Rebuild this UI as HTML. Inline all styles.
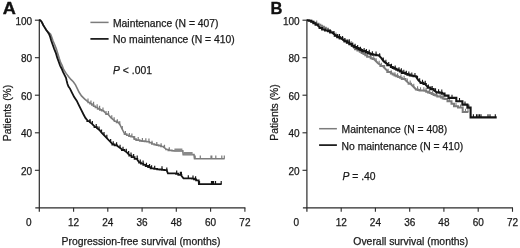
<!DOCTYPE html>
<html><head><meta charset="utf-8"><title>Survival curves</title>
<style>html,body{margin:0;padding:0;background:#fff;width:520px;height:248px;overflow:hidden}svg{display:block;will-change:transform}</style>
</head><body>
<svg width="520" height="248" viewBox="0 0 520 248">
<style>
.t{font-family:"Liberation Sans",sans-serif;font-size:10px;fill:#1a1a1a;stroke:#1a1a1a;stroke-width:0.25px}
.l{font-family:"Liberation Sans",sans-serif;font-size:10.35px;fill:#1a1a1a;stroke:#1a1a1a;stroke-width:0.25px}
.x{font-family:"Liberation Sans",sans-serif;font-size:10.4px;fill:#1a1a1a;stroke:#1a1a1a;stroke-width:0.25px}
.h{font-family:"Liberation Sans",sans-serif;font-size:16.5px;font-weight:bold;fill:#111;stroke:#111;stroke-width:0.35px}
</style>
<rect width="520" height="248" fill="#fff"/>
<text transform="translate(2.8,13.5) scale(1.1,1)" class="h">A</text>
<text x="270.6" y="13.5" class="h">B</text>
<path d="M39.3,19.599999999999998 V211.8" stroke="#2a2a2a" stroke-width="1.2" fill="none"/>
<path d="M35.3,207.8 H245.36" stroke="#2a2a2a" stroke-width="1.2" fill="none"/>
<path d="M34.9,170.3 H39.3" stroke="#2a2a2a" stroke-width="1.1"/>
<path d="M34.9,132.8 H39.3" stroke="#2a2a2a" stroke-width="1.1"/>
<path d="M34.9,95.2 H39.3" stroke="#2a2a2a" stroke-width="1.1"/>
<path d="M34.9,57.7 H39.3" stroke="#2a2a2a" stroke-width="1.1"/>
<path d="M34.9,20.2 H39.3" stroke="#2a2a2a" stroke-width="1.1"/>
<path d="M73.6,207.8 V211.8" stroke="#2a2a2a" stroke-width="1.1"/>
<path d="M107.8,207.8 V211.8" stroke="#2a2a2a" stroke-width="1.1"/>
<path d="M142.1,207.8 V211.8" stroke="#2a2a2a" stroke-width="1.1"/>
<path d="M176.3,207.8 V211.8" stroke="#2a2a2a" stroke-width="1.1"/>
<path d="M210.6,207.8 V211.8" stroke="#2a2a2a" stroke-width="1.1"/>
<path d="M244.9,207.8 V211.8" stroke="#2a2a2a" stroke-width="1.1"/>
<text x="32.1" y="174.6" text-anchor="end" class="t">20</text>
<text x="32.1" y="137.1" text-anchor="end" class="t">40</text>
<text x="32.1" y="99.5" text-anchor="end" class="t">60</text>
<text x="32.1" y="62.0" text-anchor="end" class="t">80</text>
<text x="32.1" y="24.5" text-anchor="end" class="t">100</text>
<text x="28.8" y="225.7" text-anchor="middle" class="t">0</text>
<text x="73.6" y="225.7" text-anchor="middle" class="t">12</text>
<text x="107.8" y="225.7" text-anchor="middle" class="t">24</text>
<text x="142.1" y="225.7" text-anchor="middle" class="t">36</text>
<text x="176.3" y="225.7" text-anchor="middle" class="t">48</text>
<text x="210.6" y="225.7" text-anchor="middle" class="t">60</text>
<text x="244.9" y="225.7" text-anchor="middle" class="t">72</text>
<path d="M306.9,19.599999999999998 V211.8" stroke="#2a2a2a" stroke-width="1.2" fill="none"/>
<path d="M302.9,207.8 H512.96" stroke="#2a2a2a" stroke-width="1.2" fill="none"/>
<path d="M302.5,170.3 H306.9" stroke="#2a2a2a" stroke-width="1.1"/>
<path d="M302.5,132.8 H306.9" stroke="#2a2a2a" stroke-width="1.1"/>
<path d="M302.5,95.2 H306.9" stroke="#2a2a2a" stroke-width="1.1"/>
<path d="M302.5,57.7 H306.9" stroke="#2a2a2a" stroke-width="1.1"/>
<path d="M302.5,20.2 H306.9" stroke="#2a2a2a" stroke-width="1.1"/>
<path d="M341.2,207.8 V211.8" stroke="#2a2a2a" stroke-width="1.1"/>
<path d="M375.4,207.8 V211.8" stroke="#2a2a2a" stroke-width="1.1"/>
<path d="M409.7,207.8 V211.8" stroke="#2a2a2a" stroke-width="1.1"/>
<path d="M443.9,207.8 V211.8" stroke="#2a2a2a" stroke-width="1.1"/>
<path d="M478.2,207.8 V211.8" stroke="#2a2a2a" stroke-width="1.1"/>
<path d="M512.5,207.8 V211.8" stroke="#2a2a2a" stroke-width="1.1"/>
<text x="299.7" y="174.6" text-anchor="end" class="t">20</text>
<text x="299.7" y="137.1" text-anchor="end" class="t">40</text>
<text x="299.7" y="99.5" text-anchor="end" class="t">60</text>
<text x="299.7" y="62.0" text-anchor="end" class="t">80</text>
<text x="299.7" y="24.5" text-anchor="end" class="t">100</text>
<text x="296.4" y="225.7" text-anchor="middle" class="t">0</text>
<text x="341.2" y="225.7" text-anchor="middle" class="t">12</text>
<text x="375.4" y="225.7" text-anchor="middle" class="t">24</text>
<text x="409.7" y="225.7" text-anchor="middle" class="t">36</text>
<text x="443.9" y="225.7" text-anchor="middle" class="t">48</text>
<text x="478.2" y="225.7" text-anchor="middle" class="t">60</text>
<text x="512.5" y="225.7" text-anchor="middle" class="t">72</text>
<text transform="translate(10.8,113) rotate(-90)" text-anchor="middle" class="x">Patients (%)</text>
<text transform="translate(278.1,112.5) rotate(-90)" text-anchor="middle" class="x">Patients (%)</text>
<text x="141.0" y="245" text-anchor="middle" class="x">Progression-free survival (months)</text>
<text x="410.8" y="245" text-anchor="middle" class="x">Overall survival (months)</text>
<path d="M90.4,22.4 H108.6" stroke="#7c7c7c" stroke-width="1.5"/>
<path d="M90.4,38.9 H108.6" stroke="#141414" stroke-width="1.7"/>
<text x="113" y="26.9" class="l">Maintenance (N = 407)</text>
<text x="113" y="43.3" class="l">No maintenance (N = 410)</text>
<text x="113.1" y="74.2" class="l"><tspan font-style="italic">P</tspan> &lt; .001</text>
<path d="M319.1,128.7 H336.9" stroke="#7c7c7c" stroke-width="1.5"/>
<path d="M319.1,145.1 H336.9" stroke="#141414" stroke-width="1.7"/>
<text x="341.6" y="133.2" class="l">Maintenance (N = 408)</text>
<text x="341.6" y="149.6" class="l">No maintenance (N = 410)</text>
<text x="342.5" y="179.7" class="l"><tspan font-style="italic">P</tspan> = .40</text>
<g fill="none" stroke-linejoin="miter" stroke-linecap="butt">
<path d="M306.90,20.30 L309.10,20.40 L309.10,20.75 L311.30,20.75 L311.30,21.10 L311.30,21.70 L313.40,21.70 L313.40,22.30 L313.40,22.85 L315.60,22.85 L315.60,23.40 L315.60,23.80 L318.50,23.80 L318.50,24.20 L318.50,24.70 L320.30,24.70 L320.30,25.70 L322.10,25.70 L322.10,26.20 L322.10,26.73 L323.95,26.73 L323.95,27.77 L325.80,27.77 L325.80,28.30 L325.80,28.85 L328.00,28.85 L328.00,29.40 L328.00,30.00 L330.00,30.00 L330.00,30.60 L332.60,32.60 L334.80,34.70 L334.80,35.60 L337.30,35.60 L337.30,36.50 L337.30,37.10 L339.70,37.10 L339.70,37.70 L339.70,38.45 L342.10,38.45 L342.10,39.20 L344.50,41.00 L344.50,41.60 L346.90,41.60 L346.90,42.20 L346.90,42.90 L349.40,42.90 L349.40,43.60 L349.40,44.50 L351.80,44.50 L351.80,45.40 L355.00,48.70 L355.00,49.30 L357.40,49.30 L357.40,50.50 L359.80,50.50 L359.80,51.10 L359.80,51.70 L361.65,51.70 L361.65,52.90 L363.50,52.90 L363.50,53.50 L363.50,54.10 L365.30,54.10 L365.30,55.30 L367.10,55.30 L367.10,55.90 L367.10,56.80 L370.70,56.80 L370.70,57.70 L370.70,58.15 L372.55,58.15 L372.55,59.05 L374.40,59.05 L374.40,59.50 L378.00,63.20 L380.40,65.00 L380.40,66.05 L383.60,66.05 L383.60,67.10 L387.30,70.70 L387.30,71.90 L390.90,71.90 L390.90,73.10 L390.90,73.57 L392.70,73.57 L392.70,74.53 L394.50,74.53 L394.50,75.00 L394.50,75.45 L396.30,75.45 L396.30,76.35 L398.10,76.35 L398.10,76.80 L398.10,77.10 L399.95,77.10 L399.95,77.70 L401.80,77.70 L401.80,78.00 L401.80,79.00 L405.40,79.00 L405.40,80.00 L408.60,83.10 L408.60,83.70 L411.00,83.70 L411.00,84.30 L413.50,86.70 L415.90,89.20 L415.90,89.50 L417.70,89.50 L417.70,90.10 L419.50,90.10 L419.50,90.40 L424.40,90.40 L424.40,90.85 L426.20,90.85 L426.20,91.75 L428.00,91.75 L428.00,92.20 L428.00,92.50 L429.80,92.50 L429.80,93.10 L431.60,93.10 L431.60,93.40 L431.60,94.05 L433.60,94.05 L433.60,94.70 L433.60,95.00 L435.45,95.00 L435.45,95.60 L437.30,95.60 L437.30,95.90 L437.30,96.50 L440.90,96.50 L440.90,97.10 L440.90,97.55 L442.70,97.55 L442.70,98.45 L444.50,98.45 L444.50,98.90 L447.50,98.90 L447.50,101.20 L451.50,101.20 L451.50,103.80 L454.00,103.80 L454.00,106.30 L458.00,106.30 L458.00,107.60 L462.70,107.60 L462.70,111.90 L468.40,111.90" stroke="#7c7c7c" stroke-width="2.0"/>
<path d="M316.70,23.80 v-3.2 M336.00,35.60 v-3.2 M339.53,37.10 v-3.2 M342.89,39.79 v-3.2 M345.43,41.60 v-3.2 M348.56,42.90 v-3.2 M351.61,44.50 v-3.2 M355.28,49.30 v-3.2 M358.70,50.50 v-3.2 M361.31,51.70 v-3.2 M365.18,54.10 v-3.2 M367.49,56.80 v-3.2 M370.34,56.80 v-3.2 M373.81,59.05 v-3.2 M376.18,61.33 v-3.2 M379.16,64.07 v-3.2 M381.33,66.05 v-3.2 M384.63,68.10 v-3.2 M388.11,71.90 v-3.2 M391.24,73.57 v-3.2 M394.92,75.45 v-3.2 M397.58,76.35 v-3.2 M400.93,77.70 v-3.2 M404.10,79.00 v-3.2 M407.25,81.79 v-3.2 M410.17,83.70 v-3.2 M413.78,86.99 v-3.2 M417.58,89.50 v-3.2 M420.53,90.40 v-3.2 M423.83,90.40 v-3.2 M426.04,90.85 v-3.2 M429.40,92.50 v-3.2 M432.67,94.05 v-3.2 M436.55,95.60 v-3.2 M440.13,96.50 v-3.2 M442.74,98.45 v-3.2 M449.50,101.20 v-3.2 M456.00,106.30 v-3.2 M460.50,107.60 v-3.2 M465.50,111.90 v-3.2 M468.00,111.90 v-3.2" stroke="#7c7c7c" stroke-width="1.1"/>
<path d="M306.90,20.30 L309.10,20.40 L309.10,20.75 L311.30,20.75 L311.30,21.10 L311.30,21.80 L313.40,21.80 L313.40,22.50 L313.40,23.25 L315.60,23.25 L315.60,24.00 L315.60,24.70 L317.80,24.70 L317.80,25.40 L319.60,27.40 L319.60,28.05 L322.10,28.05 L322.10,28.70 L322.10,29.45 L325.00,29.45 L325.00,30.20 L325.00,30.45 L328.00,30.45 L328.00,30.70 L328.00,31.15 L330.10,31.15 L330.10,31.60 L330.10,32.45 L333.00,32.45 L333.00,33.30 L334.80,34.70 L334.80,35.60 L337.30,35.60 L337.30,36.50 L337.30,37.10 L339.70,37.10 L339.70,37.70 L339.70,38.30 L342.10,38.30 L342.10,38.90 L344.50,40.70 L344.50,41.30 L346.90,41.30 L346.90,41.90 L346.90,42.50 L349.40,42.50 L349.40,43.10 L349.40,44.00 L351.80,44.00 L351.80,44.90 L351.80,45.70 L354.20,45.70 L354.20,46.50 L354.20,47.05 L356.40,47.05 L356.40,48.15 L358.60,48.15 L358.60,48.70 L358.60,49.15 L360.45,49.15 L360.45,50.05 L362.30,50.05 L362.30,50.50 L362.30,51.10 L365.90,51.10 L365.90,51.70 L365.90,52.15 L367.70,52.15 L367.70,53.05 L369.50,53.05 L369.50,53.50 L369.50,53.80 L371.30,53.80 L371.30,54.40 L373.10,54.40 L373.10,54.70 L376.20,54.70 L376.20,55.30 L379.20,55.30 L379.20,55.90 L381.60,58.30 L383.60,61.20 L387.30,64.10 L387.30,65.30 L390.90,65.30 L390.90,66.50 L390.90,66.95 L392.70,66.95 L392.70,67.85 L394.50,67.85 L394.50,68.30 L394.50,68.75 L396.30,68.75 L396.30,69.65 L398.10,69.65 L398.10,70.10 L398.10,70.55 L399.95,70.55 L399.95,71.45 L401.80,71.45 L401.80,71.90 L401.80,72.85 L405.40,72.85 L405.40,73.80 L407.40,74.00 L407.40,74.65 L409.80,74.65 L409.80,75.30 L409.80,75.45 L411.65,75.45 L411.65,75.75 L413.50,75.75 L413.50,75.90 L413.50,76.20 L415.90,76.20 L415.90,76.50 L418.30,80.20 L420.70,82.60 L420.70,82.90 L423.50,82.90 L423.50,83.20 L423.50,84.05 L425.80,84.05 L425.80,84.90 L427.70,86.80 L427.70,87.60 L430.60,87.60 L430.60,88.40 L430.60,89.15 L433.60,89.15 L433.60,89.90 L436.50,92.20 L436.50,92.40 L439.40,92.40 L439.40,92.60 L439.40,92.80 L442.00,92.80 L442.00,93.00 L442.00,93.65 L444.50,93.65 L444.50,94.30 L444.50,95.60 L448.50,95.60 L448.50,97.90 L456.30,97.90 L456.30,101.20 L462.40,101.20 L462.40,104.60 L467.40,104.60 L467.40,107.60 L470.60,107.60 L470.60,117.40 L496.70,117.40" stroke="#141414" stroke-width="2.1"/>
<path d="M334.00,34.08 v-3.2 M337.30,37.10 v-3.2 M339.44,37.10 v-3.2 M342.38,39.11 v-3.2 M344.78,41.30 v-3.2 M347.09,42.50 v-3.2 M349.29,42.50 v-3.2 M352.78,45.70 v-3.2 M355.11,47.05 v-3.2 M357.66,48.15 v-3.2 M360.46,50.05 v-3.2 M364.13,51.10 v-3.2 M366.37,52.15 v-3.2 M369.28,53.05 v-3.2 M372.37,54.40 v-3.2 M376.06,54.70 v-3.2 M379.64,56.34 v-3.2 M383.29,60.75 v-3.2 M385.89,63.00 v-3.2 M388.74,65.30 v-3.2 M391.49,66.95 v-3.2 M395.18,68.75 v-3.2 M399.00,70.55 v-3.2 M401.37,71.45 v-3.2 M403.79,72.85 v-3.2 M406.31,73.89 v-3.2 M408.83,74.65 v-3.2 M411.80,75.75 v-3.2 M414.96,76.20 v-3.2 M417.53,79.02 v-3.2 M419.64,81.54 v-3.2 M422.49,82.90 v-3.2 M425.26,84.05 v-3.2 M428.38,87.60 v-3.2 M432.19,89.15 v-3.2 M435.54,91.44 v-3.2 M438.57,92.40 v-3.2 M441.78,92.80 v-3.2 M452.00,97.90 v-3.2 M459.50,101.20 v-3.2 M465.00,104.60 v-3.2 M468.80,107.60 v-3.2 M473.40,117.40 v-3.2 M476.50,117.40 v-3.2 M478.00,117.40 v-3.2 M479.50,117.40 v-3.2 M481.00,117.40 v-3.2 M488.00,117.40 v-3.2 M490.00,117.40 v-3.2 M495.30,117.40 v-3.2" stroke="#141414" stroke-width="1.1"/>
<path d="M39.00,20.20 L40.40,20.30 L41.90,22.30 L43.30,25.20 L44.80,27.60 L46.40,30.00 L48.30,32.20 L50.60,34.20 L51.70,37.00 L52.90,40.50 L54.70,44.70 L56.20,48.60 L57.60,52.90 L59.30,58.60 L60.70,62.70 L62.20,65.60 L63.60,69.50 L66.10,73.40 L68.50,76.50 L70.90,79.40 L73.30,81.80 L75.50,84.90 L77.30,88.60 L79.10,92.30 L81.50,95.90 L84.50,98.90 L88.10,101.90 L88.10,102.53 L89.95,102.53 L89.95,103.78 L91.80,103.78 L91.80,104.40 L91.80,105.00 L93.60,105.00 L93.60,106.20 L95.40,106.20 L95.40,106.80 L95.40,107.47 L97.60,107.47 L97.60,108.83 L99.80,108.83 L99.80,109.50 L99.80,109.92 L101.70,109.92 L101.70,110.78 L103.60,110.78 L103.60,111.20 L106.00,113.50 L106.00,114.10 L108.50,114.10 L108.50,114.70 L110.90,117.70 L114.40,120.70 L114.40,121.25 L116.55,121.25 L116.55,122.35 L118.70,122.35 L118.70,122.90 L119.80,124.50 L121.60,128.00 L124.50,133.60 L124.50,134.15 L126.70,134.15 L126.70,135.25 L128.90,135.25 L128.90,135.80 L128.90,136.10 L131.05,136.10 L131.05,136.70 L133.20,136.70 L133.20,137.00 L134.20,138.60 L134.20,139.10 L136.10,139.10 L136.10,139.60 L136.10,140.15 L139.70,140.15 L139.70,140.70 L139.70,140.85 L142.10,140.85 L142.10,141.15 L144.50,141.15 L144.50,141.30 L144.50,141.45 L146.95,141.45 L146.95,141.75 L149.40,141.75 L149.40,141.90 L149.40,142.80 L151.80,142.80 L151.80,143.70 L151.80,144.05 L154.20,144.05 L154.20,144.40 L154.20,144.62 L156.40,144.62 L156.40,145.08 L158.60,145.08 L158.60,145.30 L158.60,145.60 L161.00,145.60 L161.00,145.90 L161.00,146.50 L163.50,146.50 L163.50,147.10 L165.90,148.90 L165.90,149.50 L168.30,149.50 L168.30,150.10 L168.30,150.40 L171.90,150.40 L171.90,150.70 L174.20,150.90 L182.80,150.90 L183.20,154.60 L194.00,154.60 L194.50,158.80 L224.60,158.80" stroke="#7c7c7c" stroke-width="1.6"/>
<path d="M88.00,101.82 v-3.2 M90.95,103.78 v-3.2 M93.56,105.00 v-3.2 M97.16,107.47 v-3.2 M99.61,108.83 v-3.2 M102.98,110.78 v-3.2 M106.02,114.10 v-3.2 M108.44,114.10 v-3.2 M111.76,118.43 v-3.2 M114.14,120.48 v-3.2 M117.31,122.35 v-3.2 M119.76,124.44 v-3.2 M122.25,129.25 v-3.2 M125.40,134.15 v-3.2 M129.35,136.10 v-3.2 M131.90,136.70 v-3.2 M134.65,139.10 v-3.2 M138.20,140.15 v-3.2 M142.39,141.15 v-3.2 M145.84,141.45 v-3.2 M148.94,141.75 v-3.2 M152.00,144.05 v-3.2 M156.80,145.08 v-3.2 M161.10,146.50 v-3.2 M164.50,147.85 v-3.2 M169.30,150.40 v-3.2 M195.20,158.80 v-3.2 M200.30,158.80 v-3.2 M211.00,158.80 v-3.2 M211.80,158.80 v-3.2 M215.80,158.80 v-3.2 M221.80,158.80 v-3.2 M224.30,158.80 v-3.2" stroke="#7c7c7c" stroke-width="1.2"/>
<path d="M174.4,149.9 H182.4 M183.6,153.4 H192.6" stroke="#8a8a8a" stroke-width="3.0"/>
<path d="M39.00,20.20 L40.40,20.30 L41.90,22.30 L43.30,25.20 L44.80,27.60 L46.20,30.00 L47.70,32.00 L49.00,34.00 L50.20,37.00 L51.20,40.50 L52.70,44.70 L54.10,48.60 L56.00,53.40 L57.30,57.90 L58.70,61.70 L60.10,65.60 L61.60,68.50 L63.00,71.90 L64.50,74.80 L66.00,77.90 L66.60,80.50 L67.50,84.00 L68.50,86.50 L70.00,88.60 L71.80,92.30 L74.20,97.10 L76.70,100.70 L79.10,105.60 L81.50,110.40 L83.30,114.00 L85.40,117.90 L87.30,120.30 L87.30,121.20 L89.70,121.20 L89.70,122.10 L92.10,123.90 L94.50,126.30 L94.50,127.20 L96.90,127.20 L96.90,128.10 L99.40,130.00 L101.80,133.00 L104.20,135.40 L106.60,137.80 L109.00,140.50 L112.30,143.90 L112.30,144.50 L114.70,144.50 L114.70,145.10 L114.70,145.40 L117.10,145.40 L117.10,145.70 L119.50,147.50 L121.90,149.40 L121.90,150.00 L124.40,150.00 L124.40,150.60 L126.80,152.40 L129.20,154.80 L129.20,155.60 L131.60,155.60 L131.60,156.40 L131.60,157.15 L134.60,157.15 L134.60,157.90 L134.60,158.80 L137.30,158.80 L137.30,159.70 L139.10,162.10 L139.10,162.70 L140.90,162.70 L140.90,163.30 L140.90,163.60 L143.30,163.60 L143.30,163.90 L143.30,164.80 L145.70,164.80 L145.70,165.70 L145.70,166.00 L148.10,166.00 L148.10,166.30 L148.10,167.20 L150.60,167.20 L150.60,168.10 L150.60,168.40 L154.20,168.40 L154.20,168.70 L154.20,168.95 L157.20,168.95 L157.20,169.20 L157.20,169.30 L159.60,169.30 L159.60,169.50 L162.00,169.50 L162.00,169.60 L162.00,169.80 L164.35,169.80 L164.35,170.20 L166.70,170.20 L166.70,170.40 L167.90,173.30 L176.00,173.30 L176.00,173.75 L178.30,173.75 L178.30,174.20 L178.30,174.95 L181.40,174.95 L181.40,175.70 L183.50,178.40 L192.00,178.40 L192.00,178.65 L194.00,178.65 L194.00,178.90 L194.00,179.40 L196.10,179.40 L196.10,179.90 L196.10,180.45 L198.70,180.45 L198.70,181.00 L198.90,184.20 L221.60,184.20" stroke="#141414" stroke-width="1.8"/>
<path d="M90.00,122.32 v-3.2 M92.33,124.13 v-3.2 M96.22,127.20 v-3.2 M99.01,129.71 v-3.2 M101.53,132.66 v-3.2 M104.00,135.20 v-3.2 M106.83,138.06 v-3.2 M110.64,142.19 v-3.2 M113.22,144.50 v-3.2 M116.58,145.40 v-3.2 M120.05,147.93 v-3.2 M123.00,150.00 v-3.2 M126.29,152.02 v-3.2 M128.65,154.25 v-3.2 M131.01,155.60 v-3.2 M133.64,157.15 v-3.2 M137.19,158.80 v-3.2 M140.25,162.70 v-3.2 M143.09,163.60 v-3.2 M146.46,166.00 v-3.2 M149.57,167.20 v-3.2 M151.60,168.40 v-3.2 M154.70,168.95 v-3.2 M162.00,169.50 v-3.2 M166.80,170.64 v-3.2 M176.70,173.75 v-3.2 M180.40,174.95 v-3.2 M181.40,174.95 v-3.2 M188.30,178.40 v-3.2 M193.00,178.65 v-3.2 M195.60,179.40 v-3.2 M199.50,184.20 v-3.2 M211.50,184.20 v-3.2 M212.50,184.20 v-3.2 M213.50,184.20 v-3.2 M215.50,184.20 v-3.2 M221.20,184.20 v-3.2" stroke="#141414" stroke-width="1.2"/>
</g>
</svg>
</body></html>
